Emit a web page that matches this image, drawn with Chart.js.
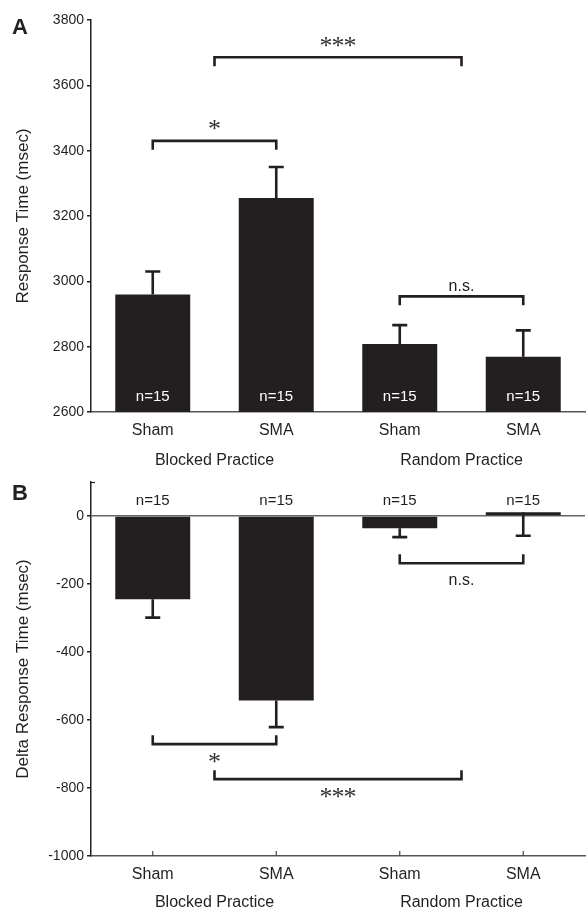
<!DOCTYPE html>
<html>
<head>
<meta charset="utf-8">
<script src="https://cdn.jsdelivr.net/npm/chart.js@4.4.1/dist/chart.umd.min.js"></script>
<style>
  html, body { margin: 0; padding: 0; background: #fff; }
  #wrap { position: relative; width: 586px; height: 912px; }
  canvas { position: absolute; left: 0; }
  #panelA { top: 0; }
  #panelB { top: 470px; }
</style>
</head>
<body>
<div id="wrap">
  <canvas id="panelA" width="586" height="470"></canvas>
  <canvas id="panelB" width="586" height="442"></canvas>
</div>
<script>
const categories = ['Sham', 'SMA', 'Sham', 'SMA'];
const practiceGroups = ['Blocked Practice', 'Random Practice'];
const sampleSizes = ['n=15', 'n=15', 'n=15', 'n=15'];

// A: response time (msec), mean and error
const rtMeans = [2960, 3255, 2808, 2769];
const rtErrors = [70, 95, 58, 81];
const rtTicks = [2600, 2800, 3000, 3200, 3400, 3600, 3800];

// B: delta response time (msec)
const deltaMeans = [-245, -543, -36, 11];
const deltaErrors = [54, 78, 26, 69];
const deltaTicks = [-1000, -800, -600, -400, -200, 0];

// significance brackets (category index span, height in data units)
const rtBrackets = [
  { from: 0, to: 1, y: 3430, label: '*' },
  { from: 0.5, to: 2.5, y: 3686, label: '***' },
  { from: 2, to: 3, y: 2954, label: 'n.s.' },
];
const deltaBrackets = [
  { from: 2, to: 3, y: -139, label: 'n.s.' },
  { from: 0, to: 1, y: -671, label: '*' },
  { from: 0.5, to: 2.5, y: -774, label: '***' },
];

const INK = '#231f20';
const SANS = '"Liberation Sans", Arial, sans-serif';
const SERIF = '"Liberation Serif", "Times New Roman", serif';

function catX(scale, idx) {
  return (scale.getPixelForValue(Math.floor(idx)) + scale.getPixelForValue(Math.ceil(idx))) / 2;
}

function annotations(cfg) {
  return {
    id: 'annot' + cfg.tag,
    afterDraw(chart) {
      const ctx = chart.ctx;
      const xs = chart.scales.x, ys = chart.scales.y;
      const area = chart.chartArea;
      const meta = chart.getDatasetMeta(0);
      ctx.save();

      // error bars
      ctx.strokeStyle = INK;
      ctx.lineWidth = 2.6;
      meta.data.forEach((bar, i) => {
        const y0 = ys.getPixelForValue(cfg.means[i]);
        const y1 = ys.getPixelForValue(cfg.means[i] + cfg.errDir * cfg.errors[i]);
        ctx.beginPath();
        ctx.moveTo(bar.x, y0);
        ctx.lineTo(bar.x, y1);
        ctx.moveTo(bar.x - 7.5, y1);
        ctx.lineTo(bar.x + 7.5, y1);
        ctx.stroke();
      });

      // n labels
      ctx.font = '15px ' + SANS;
      ctx.textAlign = 'center';
      ctx.textBaseline = 'middle';
      ctx.fillStyle = cfg.nColor;
      const baseY = ys.getPixelForValue(cfg.nBase);
      meta.data.forEach((bar, i) => {
        ctx.fillText(sampleSizes[i], bar.x, baseY - 15);
      });

      // brackets
      ctx.lineWidth = 2.6;
      ctx.strokeStyle = INK;
      ctx.fillStyle = INK;
      cfg.brackets.forEach(b => {
        const x0 = catX(xs, b.from), x1 = catX(xs, b.to);
        const yb = ys.getPixelForValue(b.y);
        const leg = 9 * cfg.legDir;
        ctx.beginPath();
        ctx.moveTo(x0, yb + leg);
        ctx.lineTo(x0, yb);
        ctx.lineTo(x1, yb);
        ctx.lineTo(x1, yb + leg);
        ctx.stroke();
        const cx = (x0 + x1) / 2;
        ctx.textBaseline = 'alphabetic';
        if (b.label === 'n.s.') {
          ctx.font = '16px ' + SANS;
          ctx.fillText(b.label, cx, cfg.legDir > 0 ? yb - 5 : yb + 22);
        } else {
          // asterisks: larger glyphs, fixed spacing
          ctx.font = '26px ' + SERIF;
          ctx.fillStyle = '#333';
          const n = b.label.length, step = 12;
          const ty = cfg.legDir > 0 ? yb - 3.5 : yb + 26;
          for (let k = 0; k < n; k++) {
            ctx.fillText('*', cx + (k - (n - 1) / 2) * step, ty);
          }
          ctx.fillStyle = INK;
        }
      });

      // inward tick marks on the category axis
      if (cfg.xTicks) {
        ctx.strokeStyle = '#444';
        ctx.lineWidth = 1.2;
        categories.forEach((c, i) => {
          const px = xs.getPixelForValue(i);
          ctx.beginPath();
          ctx.moveTo(px, area.bottom);
          ctx.lineTo(px, area.bottom - 5);
          ctx.stroke();
        });
        // small hook at the top of the value axis
        ctx.strokeStyle = INK;
        ctx.beginPath();
        ctx.moveTo(area.left, area.top + 0.5);
        ctx.lineTo(area.left + 4, area.top + 0.5);
        ctx.stroke();
      }

      // practice group labels
      ctx.font = '16px ' + SANS;
      ctx.fillStyle = INK;
      ctx.textBaseline = 'middle';
      practiceGroups.forEach((g, k) => {
        ctx.fillText(g, catX(xs, 2 * k + 0.5), area.bottom + cfg.groupOffset);
      });

      // panel letter
      ctx.font = 'bold 22px ' + SANS;
      ctx.textAlign = 'left';
      ctx.fillText(cfg.tag, 12, cfg.tagY);
      ctx.restore();
    }
  };
}

function makePanel(id, cfg) {
  new Chart(document.getElementById(id), {
    type: 'bar',
    data: {
      labels: categories,
      datasets: [{
        data: cfg.means,
        backgroundColor: INK,
        borderWidth: 0,
        barPercentage: 0.607,
        categoryPercentage: 1,
      }],
    },
    plugins: [annotations(cfg)],
    options: {
      responsive: false,
      animation: false,
      layout: { padding: { top: cfg.padTop, right: 1, left: 0, bottom: 0 } },
      plugins: { legend: { display: false }, tooltip: { enabled: false } },
      scales: {
        x: {
          afterFit: s => { s.height = cfg.xHeight; },
          grid: { drawOnChartArea: false, drawTicks: false },
          border: { color: '#555', width: 1.5 },
          ticks: { font: { size: 16, family: SANS }, color: INK, padding: 9 },
        },
        y: {
          min: cfg.min,
          max: cfg.max,
          afterFit: s => { s.width = 91; },
          afterBuildTicks: s => { s.ticks = cfg.ticks.map(v => ({ value: v })); },
          grid: {
            drawOnChartArea: cfg.zeroLine,
            tickLength: 4,
            tickColor: INK,
            lineWidth: 1.5,
            color: c => (c.tick && c.tick.value === 0 ? '#666' : 'rgba(0,0,0,0)'),
          },
          border: { color: INK, width: 1.5 },
          ticks: {
            font: { size: 14, family: SANS },
            color: INK,
            padding: 3,
            callback: v => String(v),
          },
          title: {
            display: true,
            text: cfg.title,
            font: { size: 17, family: SANS },
            color: INK,
            padding: { top: 13, bottom: 0 },
          },
        },
      },
    },
  });
}

makePanel('panelA', {
  tag: 'A', tagY: 28,
  means: rtMeans, errors: rtErrors, errDir: 1,
  min: 2600, max: 3800, ticks: rtTicks,
  brackets: rtBrackets, legDir: 1,
  nColor: '#ffffff', nBase: 2600,
  padTop: 20, xHeight: 58, groupOffset: 49,
  zeroLine: false, xTicks: false,
  title: 'Response Time (msec)',
});

makePanel('panelB', {
  tag: 'B', tagY: 24,
  means: deltaMeans, errors: deltaErrors, errDir: -1,
  min: -1000, max: 100, ticks: deltaTicks,
  brackets: deltaBrackets, legDir: -1,
  nColor: INK, nBase: 0,
  padTop: 12, xHeight: 56, groupOffset: 47,
  zeroLine: true, xTicks: true,
  title: 'Delta Response Time (msec)',
});
</script>
</body>
</html>
